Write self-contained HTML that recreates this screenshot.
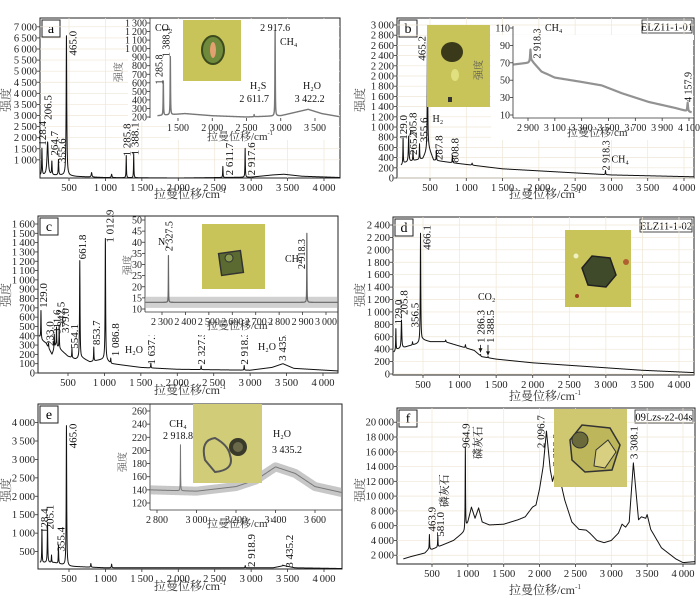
<!DOCTYPE html>
<html><head><meta charset="utf-8"><style>
body{margin:0;background:#fff;}
svg{display:block;font-family:"Liberation Serif","Noto Serif CJK SC",serif;}
</style></head><body>
<svg id="fig" width="700" height="610" viewBox="0 0 700 610"></svg>
<script>
// ---------- data (wavenumber cm-1 / intensity) ----------
const aBaseX=[100,150,450,600,1000,2000,3000,3300,3450,3700,4250];
const aBaseY=[300,300,300,250,200,180,220,320,350,260,200];
const aPeakX=[128.4,206.5,264.7,355.6,465.0,810,1085,1285.8,1388.1,2611.7,2917.6];
const aPeakH=[1200,1500,600,700,6300,200,150,1000,1100,500,1300];
const aPeakW=[4,10,4,4,5,6,6,3,3,3,3];
const aiBaseX=[1200,1600,2000,2500,3000,3400,3600,3850];
const aiBaseY=[215,240,215,200,215,290,240,205];
const aiPeakX=[1285.8,1388.1,2611.7,2917.6];
const aiPeakH=[400,680,25,1000];

const bBaseX=[100,150,300,400,480,550,800,1500,2500,3000,4250];
const bBaseY=[250,300,350,380,600,350,300,180,100,60,20];
const bPeakX=[129.0,205.8,265.7,355.6,465.2,587.8,808.8,1080,2918.3];
const bPeakH=[500,500,200,300,2200,200,150,40,80];
const bPeakW=[3,5,3,3,4,3,3,5,3];
const biBaseX=[2790,2900,2930,3000,3100,3300,3450,3600,3800,4000,4120];
const biBaseY=[68,70,72,60,53,48,44,35,25,18,13];
const biPeakX=[2918.3,4090];
const biPeakH=[14,10];

const cBaseX=[100,150,200,280,330,400,500,600,700,800,1000,1100,1500,2000,3000,3300,3450,3600,4250];
const cBaseY=[400,350,320,200,300,250,180,150,160,120,150,100,60,40,30,60,100,50,20];
const cPeakX=[129.0,233.0,311.6,342.5,379.0,554.1,661.8,853.7,1012.9,1086.8,1637.1,2327.5,2918.3];
const cPeakH=[300,50,150,200,250,100,1050,150,1300,50,50,40,50];
const cPeakW=[3,3,3,3,3,3,4,3,4,3,3,3,3];
const ciBaseX=[2230,3080];
const ciBaseY=[13,13];
const ciPeakX=[2327.5,2918.3];
const ciPeakH=[21,31];

const dBaseX=[100,150,250,300,400,450,500,600,800,1000,1200,1300,1500,2000,3000,3500,4250];
const dBaseY=[350,400,430,450,480,500,550,520,520,450,380,280,240,180,100,60,20];
const dPeakX=[129.0,205.8,356.5,466.1,810,1080,1286.3,1388.5];
const dPeakH=[350,450,50,1750,30,50,20,20];
const dPeakW=[3,5,3,4,4,4,3,3];

const eBaseX=[100,300,500,1000,3300,3450,3600,4250];
const eBaseY=[200,200,100,60,60,120,60,40];
const ePeakX=[128.4,205.1,260,355.4,465.0,800,1085,2918.9,3435.2];
const ePeakH=[900,1050,200,500,3800,100,100,60,20];
const ePeakW=[3,4,3,3,4,4,4,3,3];
const eiBaseX=[2765,3000,3200,3300,3400,3500,3600,3750];
const eiBaseY=[140,138,145,155,175,165,145,135];
const eiPeakX=[2918.8];
const eiPeakH=[70];

const fBaseX=[100,200,400,450,500,600,800,950,1000,1050,1100,1150,1200,1300,1500,1700,1800,1900,1950,2000,2050,2096,2150,2180,2226,2280,2350,2450,2550,2650,2700,2800,2900,3000,3100,3150,3200,3250,3308,3380,3420,3480,3500,3550,3700,3900,4000,4250];
const fBaseY=[1500,1800,2300,2800,2800,3200,4000,5200,6500,8500,7000,8400,6500,6100,6200,6800,7200,8500,8800,11000,14000,18800,13500,12000,13500,12500,9500,6500,5500,5400,5000,4000,3700,4000,5000,6200,5800,6500,14500,6800,7200,7000,7500,5500,3000,1500,1000,1200];
const fPeakX=[463.9,581.0,964.9];
const fPeakH=[2000,1500,11000];
const fPeakW=[3,3,3];

const mainXTicks=[500,1000,1500,2000,2500,3000,3500,4000];

// ---------- helpers ----------
const NS='http://www.w3.org/2000/svg';
const svg=document.getElementById('fig');
function mk(tag,attrs,parent,txt){const e=document.createElementNS(NS,tag);for(const k in attrs)e.setAttribute(k,attrs[k]);if(txt!==undefined)e.textContent=txt;(parent||svg).appendChild(e);return e;}
function fmt(v){const s=String(v);if(Math.abs(v)>=1000&&s.indexOf('.')<0){return s.slice(0,s.length-3)+'\u2009'+s.slice(-3);}return s;}
function interp(xs,ys,v){if(v<=xs[0])return ys[0];for(let i=1;i<xs.length;i++){if(v<=xs[i]){const t=(v-xs[i-1])/(xs[i]-xs[i-1]);return ys[i-1]+t*(ys[i]-ys[i-1]);}}return ys[ys.length-1];}
function spec(bx,by,px,ph,pw,v){let I=interp(bx,by,v);for(let i=0;i<px.length;i++){const w=pw?pw[i]:3;const d=(v-px[i])/w;I+=ph[i]/(1+d*d);}return I;}
let clipN=0;
function plotLine(g,sx,sy,bx,by,px,ph,pw,x0,x1,step,box,style){
  const vs=[];for(let v=x0;v<=x1;v+=step)vs.push(v);px.forEach(p=>vs.push(p));vs.sort((a,b)=>a-b);
  let d='';vs.forEach((v,i)=>{d+=(i?'L':'M')+sx(v).toFixed(2)+','+sy(spec(bx,by,px,ph,pw,v)).toFixed(2);});
  const id='clip'+(clipN++);
  const cp=mk('clipPath',{id:id},g);mk('rect',{x:box[0],y:box[1],width:box[2]-box[0],height:box[3]-box[1]},cp);
  const p=mk('path',Object.assign({d:d,fill:'none','clip-path':'url(#'+id+')','stroke-linejoin':'round'},style),g);
  return p;
}
function axes(g,box,sx,sy,xt,yt,fs,grid){
  const [l,t,r,b]=box;
  if(grid){xt.forEach(v=>mk('line',{x1:sx(v),x2:sx(v),y1:t,y2:b,stroke:'#efe6d6','stroke-width':0.7},g));
    yt.forEach(v=>mk('line',{x1:l,x2:r,y1:sy(v),y2:sy(v),stroke:'#efe6d6','stroke-width':0.7},g));}
  xt.forEach(v=>{mk('line',{x1:sx(v),x2:sx(v),y1:b,y2:b+3,stroke:'#333','stroke-width':0.8},g);
    const tx=mk('text',{x:sx(v),y:b+13,'font-size':fs,'text-anchor':'middle',fill:'#222'},g,fmt(v));
    });
  yt.forEach(v=>{mk('line',{x1:l-3,x2:l,y1:sy(v),y2:sy(v),stroke:'#333','stroke-width':0.8},g);
    const tx=mk('text',{x:l-3,y:sy(v)+3.5,'font-size':fs,'text-anchor':'end',fill:'#222'},g,fmt(v));
    });
}
function rlabel(g,x,y,txt,fs){const t=mk('text',{transform:'translate('+x+','+y+') rotate(-90)','font-size':fs||11,fill:'#111'},g,txt);return t;}
function hlabel(g,x,y,txt,fs,anchor){const t=mk('text',{x:x,y:y,'font-size':fs||11,fill:'#111','text-anchor':anchor||'start'},g,txt);return t;}
function arrow(g,x,y1,y2){mk('line',{x1:x,x2:x,y1:y1,y2:y2,stroke:'#111','stroke-width':0.8},g);mk('path',{d:'M'+(x-2)+','+(y2-4)+'L'+x+','+y2+'L'+(x+2)+','+(y2-4)+'Z',fill:'#111'},g);}
function photo(g,x,y,w,h,name,draw){const pg=mk('g',{},g);
  mk('rect',{x:x,y:y,width:w,height:h,fill:'#c9c45a'},pg);draw(pg);return pg;}
function frame(name,box,letter,id,idw){
  const g=mk('g',{});
  const [l,t,r,b]=box;
  mk('rect',{x:l,y:t,width:r-l,height:b-t,fill:'#fff',stroke:'#222','stroke-width':1},g);
  const lb=mk('g',{},g);
  mk('rect',{x:l+2,y:t+2,width:18,height:17,fill:'#fff',stroke:'#222','stroke-width':1},lb);
  mk('text',{x:l+11,y:t+15,'font-size':14,'text-anchor':'middle'},lb,letter);
  const ib=mk('g',{},g);
  mk('rect',{x:r-idw-2,y:t+2,width:idw,height:13,fill:'#fff',stroke:'#222','stroke-width':0.8},ib);
  mk('text',{x:r-2-idw/2,y:t+12.5,'font-size':10.5,'text-anchor':'middle'},ib,id);
  return g;
}
function xtitle(g,x,y,fs){const t=mk('text',{x:x,y:y,'font-size':fs||12,'text-anchor':'middle',fill:'#333'},g);
  t.textContent='拉曼位移/cm';mk('tspan',{'font-size':(fs||12)*0.6,dy:-5},t,'-1');return t;}
function ytitle(g,x,y,fs){const t=mk('text',{transform:'translate('+x+','+y+') rotate(-90)','font-size':fs||12,'text-anchor':'middle',fill:'#555'},g,'强度');return t;}
function rng(a,b,s){const o=[];for(let v=a;v<=b+1e-9;v+=s)o.push(Math.round(v));return o;}
const lineStyle={stroke:'#111','stroke-width':1};
const insetStyle={stroke:'#777','stroke-width':1.4};

// ---------- panel a ----------
(function(){
  const box=[40,18,340,178];
  const sx=v=>69+(v-500)*(255/3500), sy=v=>182-v*(133/6000);
  const g=frame('panel-a',box,'a','09Lzs-z1-01',56);
  axes(g,box,sx,sy,mainXTicks,rng(1000,7000,500),10.5,true);
  const sp=plotLine(g,sx,sy,aBaseX,aBaseY,aPeakX,aPeakH,aPeakW,100,4250,2,box,lineStyle);
  
  rlabel(g,sx(128.4)+4,sy(1500)-3,'128.4');rlabel(g,sx(206.5)+4,sy(2800),'206.5');rlabel(g,sx(264.7)+6,sy(1100)-2,'264.7');
  rlabel(g,sx(355.6)+7,sy(850),'355.6');rlabel(g,sx(465)+10,sy(5700),'465.0');
  rlabel(g,sx(1285.8)+4,sy(1150),'1 285.8');rlabel(g,sx(1388.1)+5,sy(1200),'1 388.1');
  rlabel(g,sx(2611.7)+10,sy(300),'2 611.7');rlabel(g,sx(2917.6)+10,sy(300),'2 917.6');
  xtitle(svg,190,198);ytitle(svg,10,100);
  const ib=[150,18,340,118];
  const ig=mk('g',{},g);
  mk('rect',{x:ib[0]-22,y:ib[1]+1,width:ib[2]-ib[0]+21,height:ib[3]-ib[1]+3,fill:'#fff'},ig);
  mk('rect',{x:ib[0]+20,y:ib[3],width:ib[2]-ib[0]-21,height:22,fill:'#fff'},ig);
  const ix=v=>178+(v-1500)*(137/2000), iy=v=>117-(v-200)*(94/1100);
  mk('line',{x1:ib[0],x2:ib[0],y1:ib[1],y2:ib[3],stroke:'#333','stroke-width':0.8},ig);
  axes(ig,[ib[0],ib[1],ib[2],ib[3]],ix,iy,[1500,2000,2500,3000,3500],rng(200,1300,100),10,false);
  const isp=plotLine(ig,ix,iy,aiBaseX,aiBaseY,aiPeakX,aiPeakH,null,1200,3850,2,ib,insetStyle);
  
  hlabel(ig,155,31,'CO₂',10);rlabel(ig,ix(1285.8)-1,iy(580),'1 285.8',10);rlabel(ig,ix(1388.1)-1,iy(900),'1 388.1',10);
  hlabel(ig,ix(2917.6),31,'2 917.6',10,'middle');hlabel(ig,280,45,'CH₄',10);
  hlabel(ig,250,89,'H₂S',10);hlabel(ig,ix(2611.7),102,'2 611.7',10,'middle');hlabel(ig,312,89,'H₂O',10,'middle');hlabel(ig,ix(3422.2),102,'3 422.2',10,'middle');
  xtitle(ig,240,140,11);ytitle(ig,122,72,10);
  photo(ig,183,20,58,61,'inclusion-photo-a',p=>{mk('ellipse',{cx:213,cy:50,rx:11,ry:14,fill:'#6f8a3a',stroke:'#3d4a1e','stroke-width':2},p);mk('ellipse',{cx:213,cy:50,rx:3,ry:8,fill:'#e3a070'},p);});
})();

// ---------- panel b ----------
(function(){
  const box=[397,18,694,178];
  const sx=v=>430+(v-500)*(254/3500), sy=v=>178-v*(153/3000);
  const g=frame('panel-b',box,'b','ELZ11-1-01',50);
  axes(g,box,sx,sy,mainXTicks,rng(0,3000,200),10.5,true);
  const sp=plotLine(g,sx,sy,bBaseX,bBaseY,bPeakX,bPeakH,bPeakW,100,4250,2,box,lineStyle);
  
  rlabel(g,sx(129)+4,sy(750),'129.0');rlabel(g,sx(205.8)+8,sy(800),'205.8');rlabel(g,sx(265.7)+4,sy(450),'265.7');
  rlabel(g,sx(355.6)+8,sy(700),'355.6');rlabel(g,sx(465.2)-2,sy(2300),'465.2');hlabel(g,sx(465.2)+5,sy(1100),'H₂',10);
  rlabel(g,sx(587.8)+6,sy(350),'287.8');rlabel(g,sx(808.8)+6,sy(300),'808.8');
  rlabel(g,sx(2918.3)+4,sy(150),'2 918.3',10);hlabel(g,sx(2918.3)+6,sy(300),'CH₄',10);
  xtitle(svg,545,198);ytitle(svg,364,100);
  photo(g,427,25,63,82,'inclusion-photo-b',p=>{mk('ellipse',{cx:452,cy:52,rx:11,ry:10,fill:'#3a3a1a'},p);mk('ellipse',{cx:455,cy:75,rx:4,ry:6,fill:'#e0e080'},p);mk('rect',{x:448,y:97,width:4,height:5,fill:'#333'},p);});
  const ib=[513,18,694,118];
  const ig=mk('g',{},g);
  mk('rect',{x:ib[0]-22,y:ib[1]+17,width:ib[2]-ib[0]+21,height:ib[3]-ib[1]+5,fill:'#fff'},ig);
  mk('rect',{x:ib[0],y:ib[1]+17,width:ib[2]-ib[0],height:5,fill:'#fff'},ig);
  const ix=v=>528+(v-2900)*(161/1200), iy=v=>115-(v-10)*(87/100);
  mk('line',{x1:ib[0],x2:ib[0],y1:ib[1]+8,y2:ib[3],stroke:'#333','stroke-width':0.8},ig);
  mk('line',{x1:ib[0],x2:ib[2],y1:ib[3],y2:ib[3],stroke:'#333','stroke-width':0.8},ig);
  axes(ig,ib,ix,iy,rng(2900,4100,200),rng(10,110,20),10,false);
  const isp=plotLine(ig,ix,iy,biBaseX,biBaseY,biPeakX,biPeakH,null,2790,4120,2,ib,{stroke:'#777','stroke-width':2.2,'stroke-opacity':0.8});
  
  rlabel(ig,ix(2918.3)+10,iy(75),'2 918.3',10);hlabel(ig,545,31,'CH₄',10);rlabel(ig,ix(4090)+4,iy(25),'4 157.9',10);
  xtitle(ig,600,136,11);ytitle(ig,482,70,10);
})();

// ---------- panel c ----------
(function(){
  const box=[38,216,338,373];
  const sx=v=>68+(v-500)*(255/3500), sy=v=>373-v*(149/1600);
  const g=frame('panel-c',box,'c','MLZ11-6-01',58);
  axes(g,box,sx,sy,mainXTicks,rng(0,1600,100),10.5,false);
  const sp=plotLine(g,sx,sy,cBaseX,cBaseY,cPeakX,cPeakH,cPeakW,100,4250,2,box,lineStyle);
  
  rlabel(g,sx(129)+6,sy(700),'129.0');rlabel(g,sx(233)+5,sy(290),'233.0');rlabel(g,sx(311.6)+6,sy(420),'311.6');rlabel(g,sx(342.5)+8,sy(500),'342.5');
  rlabel(g,sx(379)+10,sy(430),'379.0');rlabel(g,sx(554.1)+6,sy(260),'554.1');rlabel(g,sx(661.8)+6,sy(1220),'661.8');
  rlabel(g,sx(853.7)+6,sy(300),'853.7');rlabel(g,sx(1012.9)+8,sy(1400),'1 012.9');rlabel(g,sx(1086.8)+8,sy(180),'1 086.8');
  hlabel(g,125,353,'H₂O',10);rlabel(g,sx(1637.1)+4,sy(90),'1 637.1');rlabel(g,sx(2327.5)+4,sy(90),'2 327.5');rlabel(g,sx(2918.3)+4,sy(90),'2 918.3');
  hlabel(g,258,350,'H₂O',10);rlabel(g,sx(3435.4)+4,sy(130),'3 435.4');
  xtitle(svg,190,394);ytitle(svg,10,295);
  const ib=[145,216,338,312];
  const ig=mk('g',{},g);
  mk('rect',{x:ib[0]-18,y:ib[1]+1,width:ib[2]-ib[0]+17,height:ib[3]-ib[1]+22,fill:'#fff'},ig);
  const ix=v=>162+(v-2300)*(164/700), iy=v=>309-(v-10)*(89/40);
  mk('line',{x1:ib[0],x2:ib[0],y1:ib[1],y2:ib[3],stroke:'#333','stroke-width':0.8},ig);
  mk('line',{x1:ib[0],x2:ib[2],y1:ib[3],y2:ib[3],stroke:'#333','stroke-width':0.8},ig);
  axes(ig,ib,ix,iy,rng(2300,3000,100),rng(10,50,5),10,false);
  mk('rect',{x:ib[0]+1,y:iy(15.5),width:ib[2]-ib[0]-1,height:iy(10.5)-iy(15.5),fill:'#999','fill-opacity':0.45},ig);
  const isp=plotLine(ig,ix,iy,ciBaseX,ciBaseY,ciPeakX,ciPeakH,[0.6,0.6],2230,3080,0.5,ib,{stroke:'#666','stroke-width':1.2});
  
  hlabel(ig,158,245,'N₂',10);rlabel(ig,ix(2327.5)+4,iy(36),'2 327.5',10);hlabel(ig,285,262,'CH₄',10);rlabel(ig,ix(2918.3)-2,iy(28),'2 918.3',10);
  xtitle(ig,240,329,11);ytitle(ig,131,265,10);
  photo(ig,202,224,63,65,'inclusion-photo-c',p=>{mk('rect',{x:220,y:252,width:22,height:22,fill:'#5a6a30',stroke:'#333','stroke-width':1.5,transform:'rotate(-8 231 263)'},p);mk('circle',{cx:229,cy:258,r:4,fill:'#8a9a50',stroke:'#333'},p);});
})();

// ---------- panel d ----------
(function(){
  const box=[393,217,694,375];
  const sx=v=>423+(v-500)*(256/3500), sy=v=>374-v*(149/2400);
  const g=frame('panel-d',box,'d','ELZ11-1-02',52);
  axes(g,box,sx,sy,mainXTicks,rng(0,2400,200),10.5,true);
  const sp=plotLine(g,sx,sy,dBaseX,dBaseY,dPeakX,dPeakH,dPeakW,100,4250,2,box,lineStyle);
  
  rlabel(g,sx(129)+6,sy(800),'129.0');rlabel(g,sx(205.8)+6,sy(950),'205.8');rlabel(g,sx(356.5)+6,sy(750),'356.5');rlabel(g,sx(466.1)+10,sy(2000),'466.1');
  hlabel(g,478,300,'CO₂',10);rlabel(g,sx(1286.3)+4,sy(500),'1 286.3');rlabel(g,sx(1388.5)+6,sy(500),'1 388.5');
  arrow(g,sx(1286.3),sy(470),sy(350));arrow(g,sx(1388.5),sy(470),sy(300));
  xtitle(svg,545,400);ytitle(svg,364,295);
  photo(g,565,230,66,77,'inclusion-photo-d',p=>{mk('path',{d:'M582,268 L592,256 L610,258 L616,275 L606,287 L588,285 Z',fill:'#3f4a2a',stroke:'#222','stroke-width':1.5},p);
    mk('circle',{cx:576,cy:256,r:2.5,fill:'#f0f0c0'},p);mk('circle',{cx:626,cy:262,r:3,fill:'#b06030'},p);mk('circle',{cx:577,cy:296,r:2,fill:'#a04020'},p);});
})();

// ---------- panel e ----------
(function(){
  const box=[38,404,342,569];
  const sx=v=>69+(v-500)*(255/3500), sy=v=>570-v*(129/3500);
  const g=frame('panel-e',box,'e','09Lzs-z1-03g',58);
  axes(g,box,sx,sy,mainXTicks,rng(500,4000,500),10.5,false);
  const sp=plotLine(g,sx,sy,eBaseX,eBaseY,ePeakX,ePeakH,ePeakW,100,4250,2,box,lineStyle);
  
  rlabel(g,sx(128.4)+6,sy(1000),'128.4');rlabel(g,sx(205.1)+6,sy(1100),'205.1');rlabel(g,sx(355.4)+6,sy(500),'355.4');rlabel(g,sx(465)+10,sy(3300),'465.0');
  rlabel(g,sx(2918.9)+10,sy(80),'2 918.9');rlabel(g,sx(3435.2)+10,sy(60),'3 435.2');
  xtitle(svg,190,590);ytitle(svg,10,490);
  const ib=[150,404,342,510];
  const ig=mk('g',{},g);
  mk('rect',{x:ib[0]-28,y:ib[1]+1,width:ib[2]-ib[0]+27,height:ib[3]-ib[1]+22,fill:'#fff'},ig);
  const ix=v=>157+(v-2800)*(158/800), iy=v=>503-(v-120)*(92/140);
  mk('line',{x1:ib[0],x2:ib[0],y1:ib[1],y2:ib[3],stroke:'#333','stroke-width':0.8},ig);
  mk('line',{x1:ib[0],x2:ib[2],y1:ib[3],y2:ib[3],stroke:'#333','stroke-width':0.8},ig);
  axes(ig,ib,ix,iy,rng(2800,3600,200),rng(120,260,20),10,false);
  const isp=plotLine(ig,ix,iy,eiBaseX,eiBaseY,[],[],[],2765,3750,2,ib,{stroke:'#999','stroke-width':9,'stroke-opacity':0.55});
  
  const isp2=plotLine(ig,ix,iy,eiBaseX,eiBaseY,eiPeakX,eiPeakH,[0.8],2765,3750,1,ib,{stroke:'#777','stroke-width':1});
  
  hlabel(ig,178,427,'CH₄',10,'middle');hlabel(ig,178,439,'2 918.8',10,'middle');hlabel(ig,282,437,'H₂O',10,'middle');hlabel(ig,287,453,'3 435.2',10,'middle');
  xtitle(ig,240,527,11);ytitle(ig,126,462,10);
  photo(ig,193,404,69,79,'inclusion-photo-e',p=>{p.firstChild.setAttribute('fill','#d0cc78');mk('path',{d:'M205,460 Q200,440 215,438 Q228,445 230,455 Q235,470 215,472 Z',fill:'none',stroke:'#555','stroke-width':2},p);
    mk('circle',{cx:238,cy:447,r:9,fill:'#3a3a2a'},p);mk('circle',{cx:238,cy:447,r:5,fill:'#6a6a4a'},p);});
})();

// ---------- panel f ----------
(function(){
  const box=[397,408,695,564];
  const sx=v=>432+(v-500)*(251/3500), sy=v=>570-v*(133/18000);
  const g=frame('panel-f',box,'f','09Lzs-z2-04s',58);
  axes(g,box,sx,sy,mainXTicks,rng(2000,20000,2000),10.5,true);
  const sp=plotLine(g,sx,sy,fBaseX,fBaseY,fPeakX,fPeakH,fPeakW,100,4250,2,box,lineStyle);
  
  rlabel(g,sx(463.9)+6,sy(5200),'463.9');rlabel(g,sx(581)+6,sy(4500),'581.0');rlabel(g,sx(581)+10,sy(8500),'磷灰石',11);
  rlabel(g,sx(964.9)+4,sy(16500),'964.9');rlabel(g,sx(964.9)+16,sy(15000),'磷灰石',11);
  rlabel(g,sx(2096.7)-2,sy(16500),'2 096.7');rlabel(g,sx(2226)+4,sy(14000),'2 226.0');rlabel(g,sx(3308.1)+4,sy(15000),'3 308.1');
  xtitle(svg,545,594);ytitle(svg,364,490);
  photo(g,554,409,73,78,'inclusion-photo-f',p=>{p.firstChild.setAttribute('fill','#cfc870');mk('path',{d:'M570,440 L582,425 L610,428 L620,445 L612,470 L585,472 L572,460 Z',fill:'#bdb65a',stroke:'#333','stroke-width':1.5},p);
    mk('circle',{cx:580,cy:440,r:8,fill:'#6a6a3a',stroke:'#333'},p);mk('path',{d:'M596,450 L608,440 L616,452 L605,468 L594,466 Z',fill:'#d8d080',stroke:'#333'},p);});
})();
</script>
</body></html>
